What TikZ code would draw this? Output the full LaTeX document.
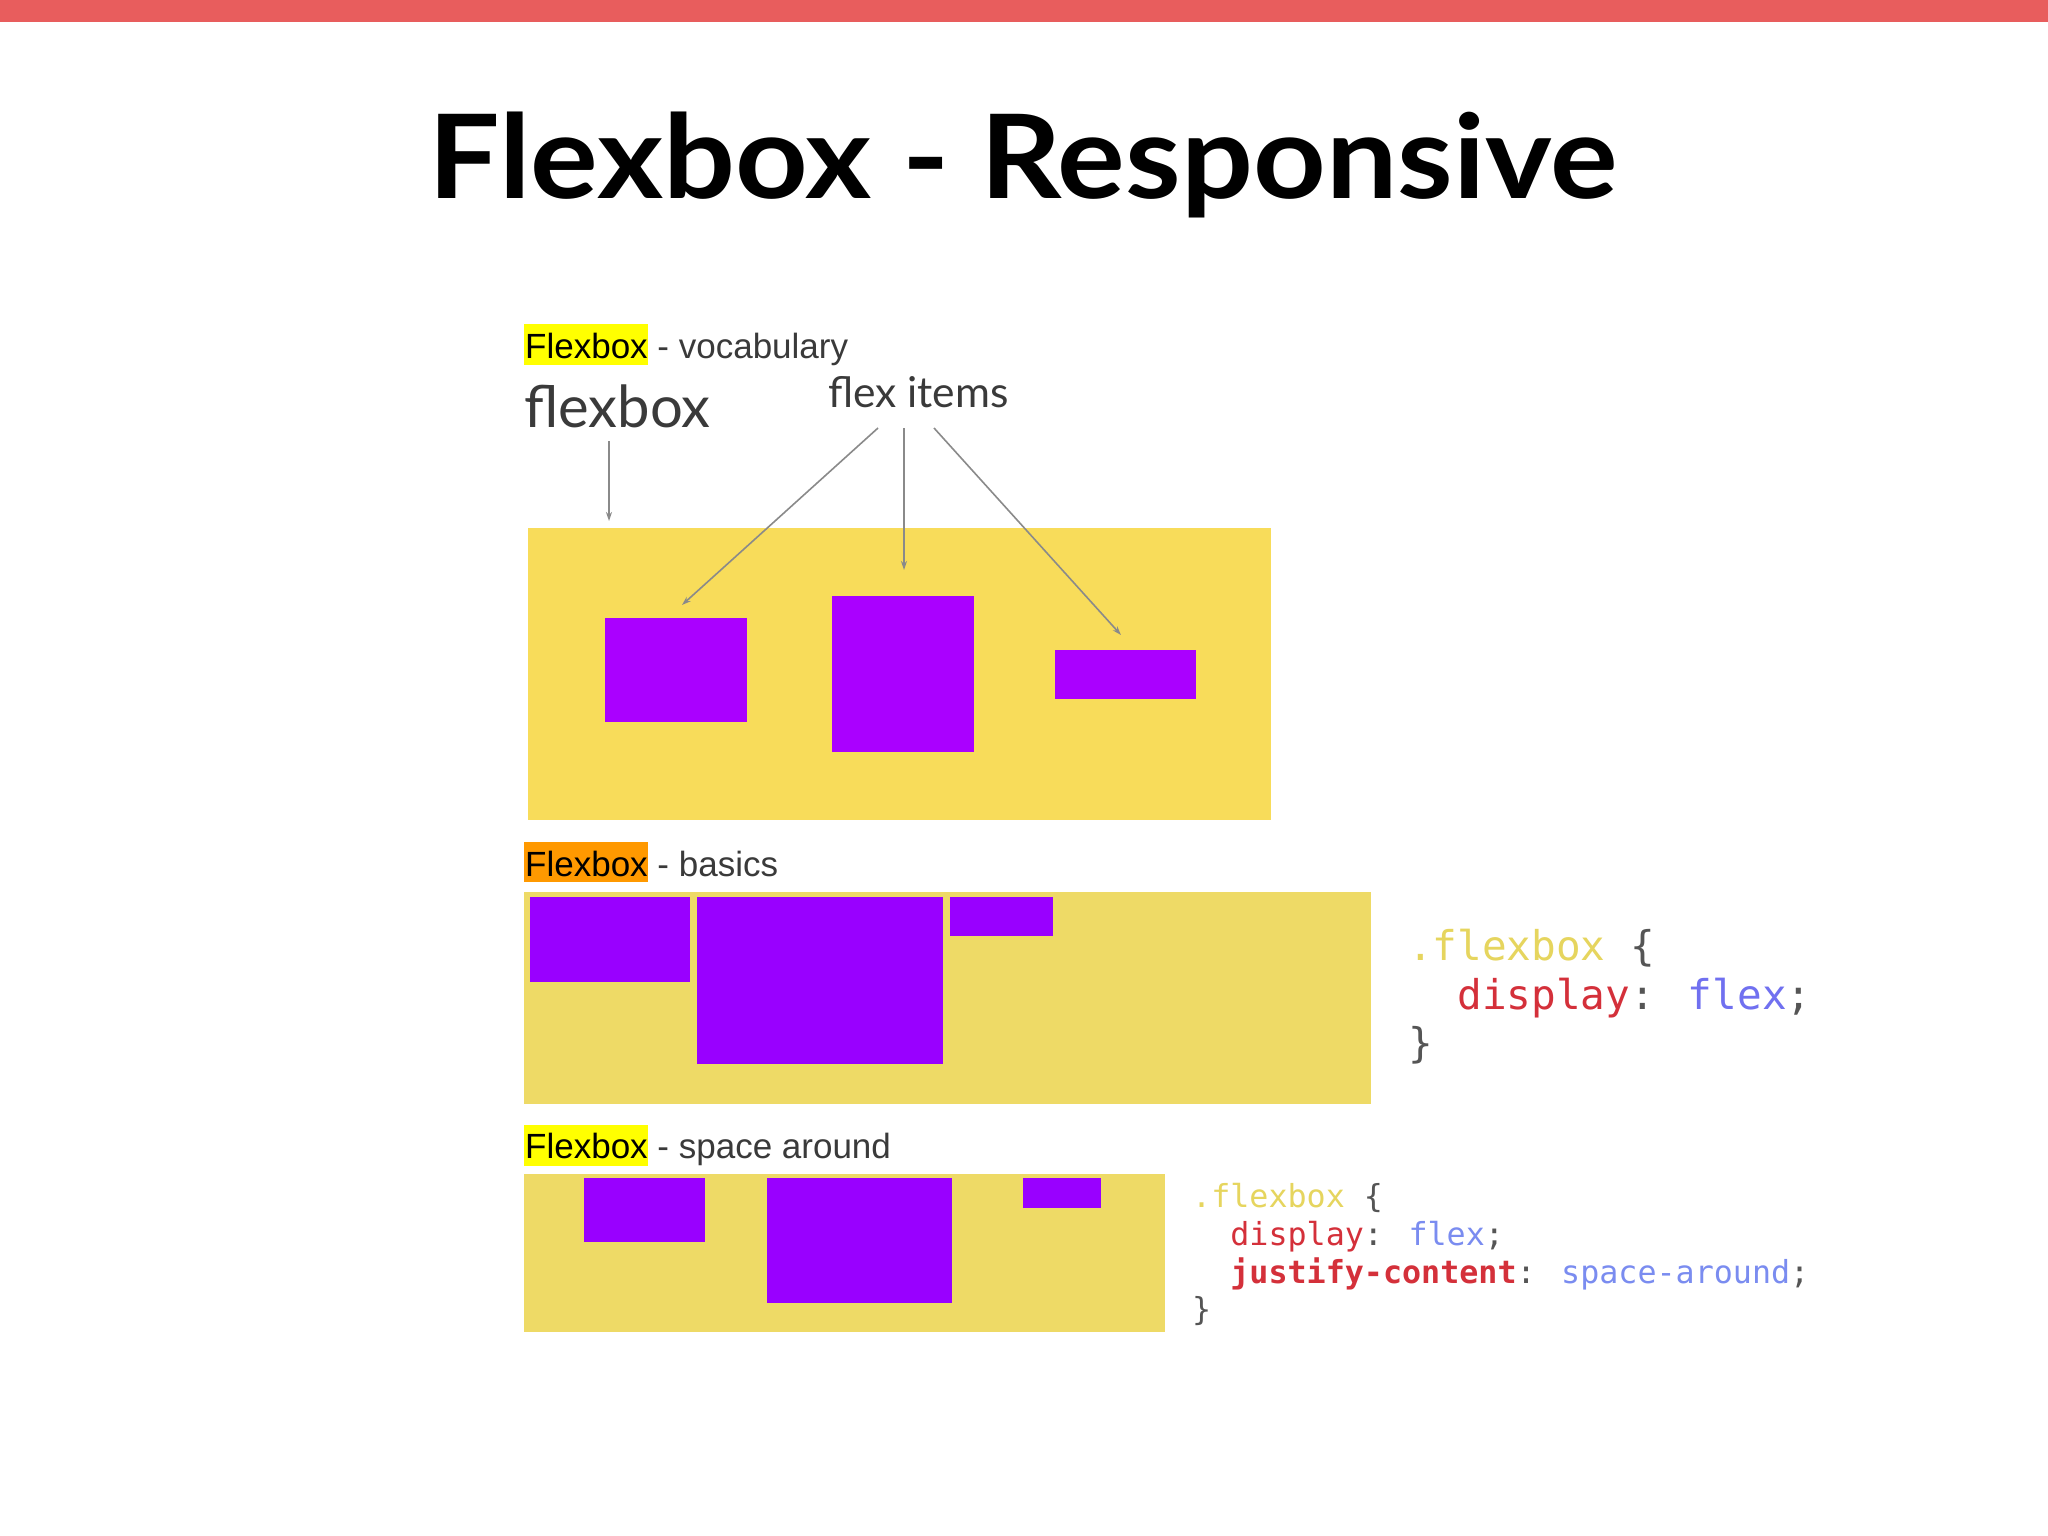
\documentclass[tikz,border=0pt]{standalone}
\usepackage{fontspec}
\setmainfont{Liberation Sans}
\newfontfamily\titlefont{Lato}
\newfontfamily\codefont{DejaVu Sans Mono}
\usetikzlibrary{arrows.meta}
\definecolor{topred}{HTML}{E85D5D}
\definecolor{hlyellow}{HTML}{FFFF00}
\definecolor{hlorange}{HTML}{FF9900}
\definecolor{vocabyellow}{HTML}{F8DC5A}
\definecolor{plainyellow}{HTML}{EEDA66}
\definecolor{purpleA}{HTML}{AA00FF}
\definecolor{purpleB}{HTML}{9900FF}
\definecolor{arrowgray}{HTML}{8A8A8A}
\definecolor{labelgray}{HTML}{3A3A3A}
\definecolor{codeyellow}{HTML}{E6D55E}
\definecolor{codered}{HTML}{D4303A}
\definecolor{codeblue}{HTML}{7070F0}
\definecolor{codeblueB}{HTML}{7A8CF0}
\definecolor{codegray}{HTML}{555555}
\tikzset{
  area/.style={inner sep=0pt, outer sep=0pt, anchor=north west},
  highlight/.style={area},
  seclabel/.style={inner sep=0pt, anchor=base west, font=\fontsize{35}{42}\selectfont},
  biglabel/.style={inner sep=0pt, anchor=base west, text=labelgray},
  pointer/.style={draw=arrowgray, line width=1.6pt, -{Stealth[length=9pt,width=6pt]}},
  codeline/.style={inner sep=0pt, anchor=base west},
}
\begin{document}
\begin{tikzpicture}[x=1pt,y=-1pt]
\useasboundingbox (0,0) rectangle (2048,1536);
\fill[white] (0,0) rectangle (2048,1536);
\fill[topred] (0,0) rectangle (2048,22);

% title
\node[inner sep=0pt, anchor=base, font=\titlefont\bfseries\fontsize{128}{140}\selectfont] (title) at (1023,198) {\scalebox{0.99}[0.91]{Flexbox - Responsive}};

% ---------- vocabulary ----------
\node[highlight, fill=hlyellow, minimum width=124pt, minimum height=41pt] (hl1) at (524,324) {};
\node[seclabel] (sec1) at (525,358) {\textcolor{black}{Flexbox} \textcolor{labelgray}{- vocabulary}};

\node[biglabel, font=\titlefont\fontsize{58}{68}\selectfont] (lblflexbox) at (524,427) {flexbox};
\node[biglabel, font=\titlefont\fontsize{42.5}{50}\selectfont] (lblitems) at (828,407) {flex items};

\node[area, fill=vocabyellow, minimum width=743pt, minimum height=292pt] (vocab) at (528,528) {};
\node[area, fill=purpleA, minimum width=142pt, minimum height=104pt] (v1) at (605,618) {};
\node[area, fill=purpleA, minimum width=142pt, minimum height=156pt] (v2) at (832,596) {};
\node[area, fill=purpleA, minimum width=141pt, minimum height=49pt] (v3) at (1055,650) {};

\coordinate (s0) at (609,441);
\coordinate (e0) at (609,521);
\coordinate (s1) at (878,428);
\coordinate (e1) at (682,605);
\coordinate (s2) at (904,428);
\coordinate (e2) at (904,570);
\coordinate (s3) at (934,428);
\coordinate (e3) at (1121,635);
\draw[pointer] (s0) -- (e0);
\draw[pointer] (s1) -- (e1);
\draw[pointer] (s2) -- (e2);
\draw[pointer] (s3) -- (e3);

% ---------- basics ----------
\node[highlight, fill=hlorange, minimum width=124pt, minimum height=40pt] (hl2) at (524,842) {};
\node[seclabel] (sec2) at (525,876) {\textcolor{black}{Flexbox} \textcolor{labelgray}{- basics}};

\node[area, fill=plainyellow, minimum width=847pt, minimum height=212pt] (basics) at (524,892) {};
\node[area, fill=purpleB, minimum width=160pt, minimum height=85pt] (b1) at (530,897) {};
\node[area, fill=purpleB, minimum width=246pt, minimum height=167pt] (b2) at (697,897) {};
\node[area, fill=purpleB, minimum width=103pt, minimum height=39pt] (b3) at (950,897) {};

\begin{scope}[font=\codefont\fontsize{41}{49}\selectfont]
\node[codeline] (c1a) at (1408,960) {\textcolor{codeyellow}{.flexbox} \textcolor{codegray}{\{}};
\node[codeline] (c1b) at (1408,1009) {\textcolor{codered}{\ \ display}\textcolor{codegray}{:} \textcolor{codeblue}{flex}\textcolor{codegray}{;}};
\node[codeline] (c1c) at (1408,1057) {\textcolor{codegray}{\}}};
\end{scope}

% ---------- space around ----------
\node[highlight, fill=hlyellow, minimum width=124pt, minimum height=41pt] (hl3) at (524,1125) {};
\node[seclabel] (sec3) at (525,1158) {\textcolor{black}{Flexbox} \textcolor{labelgray}{- space around}};

\node[area, fill=plainyellow, minimum width=641pt, minimum height=158pt] (around) at (524,1174) {};
\node[area, fill=purpleB, minimum width=121pt, minimum height=64pt] (a1) at (584,1178) {};
\node[area, fill=purpleB, minimum width=185pt, minimum height=125pt] (a2) at (767,1178) {};
\node[area, fill=purpleB, minimum width=78pt, minimum height=30pt] (a3) at (1023,1178) {};

\begin{scope}[font=\codefont\fontsize{31.7}{38}\selectfont]
\node[codeline] (c2a) at (1192,1207) {\textcolor{codeyellow}{.flexbox} \textcolor{codegray}{\{}};
\node[codeline] (c2b) at (1192,1245) {\textcolor{codered}{\ \ display}\textcolor{codegray}{:} \textcolor{codeblueB}{flex}\textcolor{codegray}{;}};
\node[codeline] (c2c) at (1192,1283) {\textcolor{codered}{\ \ \bfseries justify-content}\textcolor{codegray}{:} \textcolor{codeblueB}{space-around}\textcolor{codegray}{;}};
\node[codeline] (c2d) at (1192,1320) {\textcolor{codegray}{\}}};
\end{scope}
\end{tikzpicture}
\end{document}
